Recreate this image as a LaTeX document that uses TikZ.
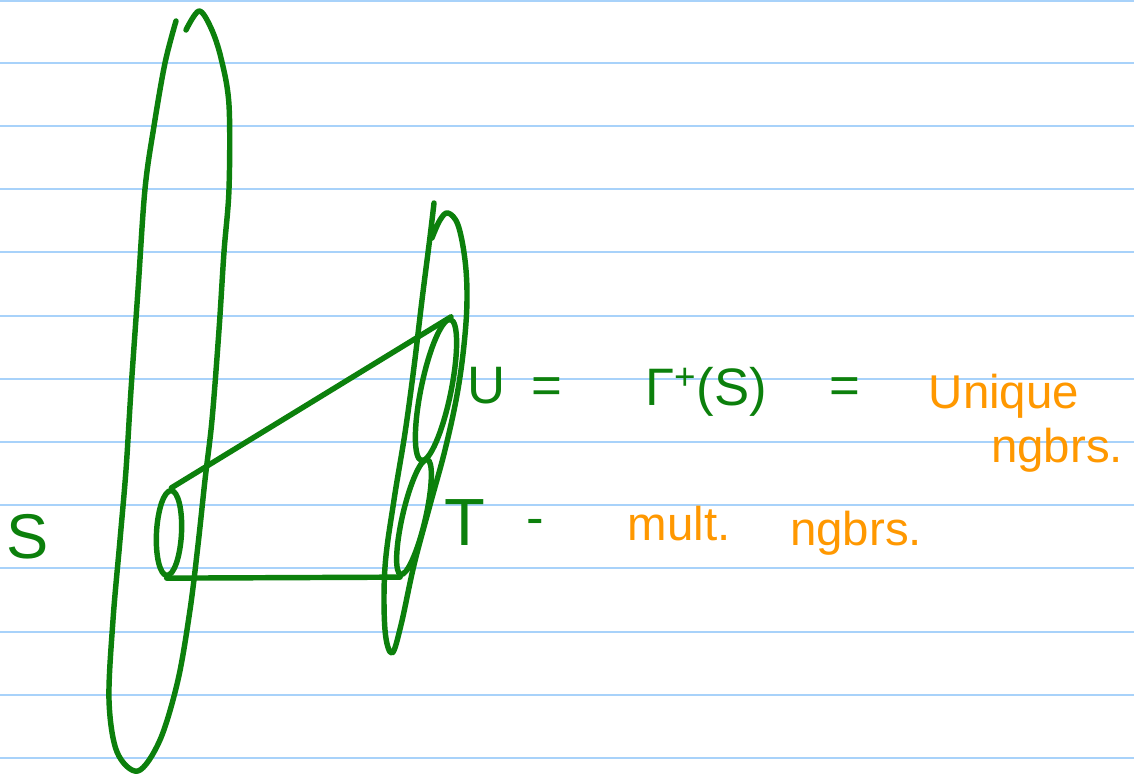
\documentclass[tikz,border=0pt]{standalone}
\usepackage{fontspec}
\setmainfont{Liberation Sans}
\usetikzlibrary{shapes.geometric}
\definecolor{tinta}{RGB}{12,128,12}
\definecolor{naranja}{RGB}{255,152,0}
\definecolor{azul}{RGB}{168,210,250}
\begin{document}
\begin{tikzpicture}[
    x=0.02cm, y=-0.02cm,
    renglon/.style={azul, line width=1.1pt},
    trazo/.style={tinta, line width=3.1pt, line cap=round, line join=round},
    ovalo/.style={trazo, draw, ellipse, inner sep=0pt},
    etiq/.style={tinta, font=\fontsize{30}{34}\selectfont, anchor=base, inner sep=0pt},
    nota/.style={naranja, font=\fontsize{27}{30}\selectfont, anchor=base, inner sep=0pt}
  ]
  \useasboundingbox[fill=white] (0,0) rectangle (1134,774);
  \foreach \y in {1,63,126,189,252,316,379,442,505,568,632,695,758}
    \draw[renglon] (0,\y) -- (1134,\y);

  \draw[trazo] plot[smooth, tension=0.55] coordinates {(186,30) (199,11) (211,28) (221,58)
    (229,105) (229,189) (224,252) (219,330) (212,420) (205,480) (198,545) (190,610)
    (178,680) (160,740) (138,771) (117,752) (109,700) (113,620) (120,540) (126,470)
    (131,390) (138,290) (145,189) (154,126) (165,63) (176,21)};
  \draw[trazo] plot[smooth, tension=0.6] coordinates {(432,238) (440,220) (448,213)
    (458,225) (465,260) (467,300) (464,345) (457,395) (445,450) (430,505) (414,565)
    (401,625) (392,653) (385,630) (385,567) (394,500) (405,433) (414,367) (422,300)
    (430,237) (434,203)};

  \node[ovalo, minimum width=0.5cm, minimum height=1.7cm, rotate=-3] (fuente) at (169,533) {};
  \node[ovalo, minimum width=0.6cm, minimum height=2.88cm, rotate=-11.6] (conjU) at (436,390) {};
  \node[ovalo, minimum width=0.46cm, minimum height=2.36cm, rotate=-13] (conjT) at (414,517) {};

  \draw[trazo] (fuente.north) -- (conjU.north);
  \draw[trazo] (fuente.south) -- (conjT.south);

  \node[etiq, font=\fontsize{36}{40}\selectfont] (letraS) at (28,558) {S};
  \node[etiq] (letraU) at (487,403) {U};
  \node[etiq] (igual1) at (547,403) {=};
  \node[etiq] (gamma) at (706,405) {Γ\textsuperscript{+}(S)};
  \node[etiq] (igual2) at (845,403) {=};
  \node[nota] (unico) at (1004,408) {Unique};
  \node[nota] (vecU) at (1057,462) {ngbrs.};
  \node[etiq, font=\fontsize{38}{42}\selectfont] (letraT) at (465,545) {T};
  \node[etiq] (guion) at (535,535) {-};
  \node[nota] (mult) at (679,540) {mult.};
  \node[nota] (vecT) at (856,545) {ngbrs.};
\end{tikzpicture}
\end{document}
